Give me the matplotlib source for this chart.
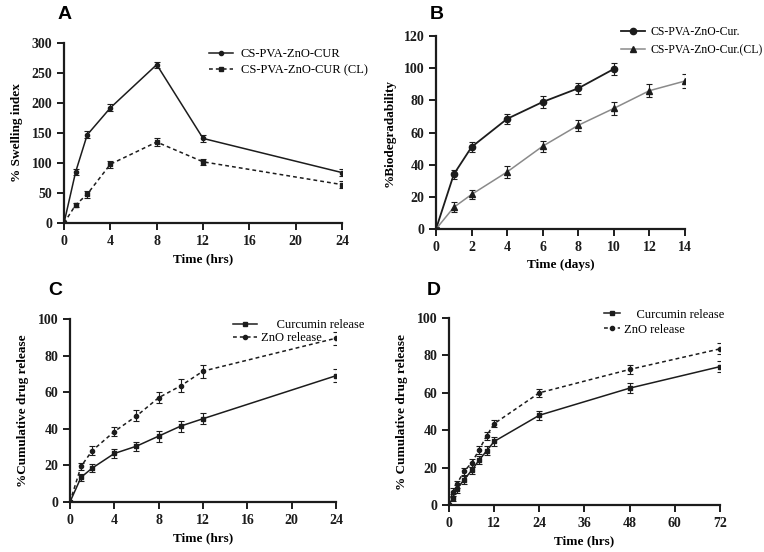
import matplotlib
matplotlib.use("Agg")
import matplotlib.pyplot as plt

# ---------------- data ----------------
# Panel A: swelling index
a_time = [0, 1, 2, 4, 8, 12, 24]
a_cur = [0, 85, 147, 192, 264, 141, 84]
a_cur_err = [0, 5, 6, 6, 5, 6, 6]
a_cl = [0, 30, 48, 98, 135, 102, 64]
a_cl_err = [0, 4, 6, 6, 6, 5, 6]
a_xticks = [0, 4, 8, 12, 16, 20, 24]
a_yticks = [0, 50, 100, 150, 200, 250, 300]

# Panel B: biodegradability
b_time1 = [0, 1, 2, 4, 6, 8, 10]
b_cur = [0, 34, 51, 68.5, 79, 87.5, 99.5]
b_cur_err = [0, 3, 3, 3, 3.5, 3.5, 4]
b_time2 = [0, 1, 2, 4, 6, 8, 10, 12, 14]
b_cl = [0, 13.5, 21.5, 35.5, 51.5, 64.5, 75, 86, 92]
b_cl_err = [0, 3, 3, 3.5, 3.5, 3.5, 4, 4, 4.5]
b_xticks = [0, 2, 4, 6, 8, 10, 12, 14]
b_yticks = [0, 20, 40, 60, 80, 100, 120]

# Panel C: cumulative release (24 h)
c_time = [0, 1, 2, 4, 6, 8, 10, 12, 24]
c_curc = [0, 13.5, 18.5, 26.5, 30.5, 36, 41.5, 45.5, 69]
c_curc_err = [0, 2, 2, 2.5, 2.5, 3, 3, 3, 3.5]
c_zno = [0, 19.5, 28, 38.5, 47, 57, 63.5, 71.5, 89.5]
c_zno_err = [0, 2, 2.5, 2.5, 3, 3, 3.5, 3.5, 3.5]
c_xticks = [0, 4, 8, 12, 16, 20, 24]
c_yticks = [0, 20, 40, 60, 80, 100]

# Panel D: cumulative release (72 h)
d_time = [0, 1, 2, 4, 6, 8, 10, 12, 24, 48, 72]
d_curc = [0, 4, 8.5, 13.5, 18.5, 24, 29, 34, 48, 62.5, 74]
d_curc_err = [0, 2, 2, 2, 2, 2, 2.5, 2.5, 2.5, 2.5, 3]
d_zno = [0, 7, 11, 18, 22.5, 29.5, 37, 43.5, 60, 72.5, 83.5]
d_zno_err = [0, 2, 2, 2, 2, 2, 2, 2, 2, 2.5, 3]
d_xticks = [0, 12, 24, 36, 48, 60, 72]
d_yticks = [0, 20, 40, 60, 80, 100]

# ---------------- style ----------------
plt.rcParams['font.family'] = ['Liberation Serif', 'DejaVu Serif']
DARK = '#1c1c1c'
GRAY = '#8a8a8a'

fig = plt.figure(figsize=(7.64, 5.52), dpi=100)
fig.patch.set_facecolor('white')


def style_axes(ax, xticks, yticks, xlabel, ylabel, xlim, ylim):
    for s in ['top', 'right']:
        ax.spines[s].set_visible(False)
    for s in ['left', 'bottom']:
        ax.spines[s].set_linewidth(1.6)
        ax.spines[s].set_color(DARK)
    ax.set_xticks(xticks)
    ax.set_yticks(yticks)
    ax.set_xlim(*xlim)
    ax.set_ylim(*ylim)
    ax.tick_params(direction='out', length=5, width=1.4, colors=DARK,
                   labelsize=10)
    for lab in ax.get_xticklabels() + ax.get_yticklabels():
        lab.set_fontweight('bold')
    ax.set_xlabel(xlabel, fontsize=9.5, fontweight='bold', labelpad=4)
    ax.set_ylabel(ylabel, fontsize=9.5, fontweight='bold', labelpad=6)
    ax.set_facecolor('white')


def add_legend(ax, containers, labels, anchor, **kw):
    handles = [c[0] for c in containers]
    opts = dict(loc='upper left', bbox_to_anchor=anchor,
                bbox_transform=fig.transFigure, frameon=False, fontsize=9,
                borderaxespad=0, borderpad=0)
    opts.update(kw)
    ax.legend(handles, labels, **opts)


ebkw = dict(capsize=2, elinewidth=0.8, capthick=0.8)

# Panel A
axA = fig.add_axes([0.0838, 0.596, 0.364, 0.326])
ea1 = axA.errorbar(a_time, a_cur, yerr=a_cur_err, color=DARK, lw=1.1,
                   marker='o', ms=3, **ebkw)
ea2 = axA.errorbar(a_time, a_cl, yerr=a_cl_err, color=DARK, lw=1.1,
                   ls=(0, (2.5, 2)), marker='s', ms=3, **ebkw)
style_axes(axA, a_xticks, a_yticks, 'Time (hrs)', '% Swelling index',
           (0, 24), (0, 300))
add_legend(axA, [ea1, ea2], ['CS-PVA-ZnO-CUR', 'CS-PVA-ZnO-CUR (CL)'],
           (0.274, 0.913), handlelength=1.9, handletextpad=0.6,
           labelspacing=0.35)

# Panel B
axB = fig.add_axes([0.5707, 0.5851, 0.3259, 0.3497])
eb1 = axB.errorbar(b_time1, b_cur, yerr=b_cur_err, color=DARK, lw=1.3,
                   marker='o', ms=4.5, **ebkw)
eb2 = axB.errorbar(b_time2, b_cl, yerr=b_cl_err, color=GRAY, ecolor=DARK,
                   lw=1.1, marker='^', ms=4.5, mfc=DARK, mec=DARK, **ebkw)
style_axes(axB, b_xticks, b_yticks, 'Time (days)', '%Biodegradability',
           (0, 14), (0, 120))
add_legend(axB, [eb1, eb2], ['CS-PVA-ZnO-Cur.', 'CS-PVA-ZnO-Cur.(CL)'],
           (0.813, 0.952), fontsize=8.5, handlelength=2.0,
           handletextpad=0.45, labelspacing=0.5)

# Panel C
axC = fig.add_axes([0.0916, 0.0906, 0.3482, 0.3315])
ec1 = axC.errorbar(c_time, c_curc, yerr=c_curc_err, color=DARK, lw=1.1,
                   marker='s', ms=3, **ebkw)
ec2 = axC.errorbar(c_time, c_zno, yerr=c_zno_err, color=DARK, lw=1.1,
                   ls=(0, (2.5, 2)), marker='o', ms=3, **ebkw)
style_axes(axC, c_xticks, c_yticks, 'Time (hrs)', '%Cumulative drug release',
           (0, 24), (0, 100))
add_legend(axC, [ec1, ec2], ['     Curcumin release', 'ZnO release'],
           (0.305, 0.422), handlelength=1.9, handletextpad=0.3,
           labelspacing=0.1)

# Panel D
axD = fig.add_axes([0.5877, 0.0851, 0.3547, 0.3388])
ed1 = axD.errorbar(d_time, d_curc, yerr=d_curc_err, color=DARK, lw=1.1,
                   marker='s', ms=3, **ebkw)
ed2 = axD.errorbar(d_time, d_zno, yerr=d_zno_err, color=DARK, lw=1.1,
                   ls=(0, (2.5, 2)), marker='o', ms=3, **ebkw)
style_axes(axD, d_xticks, d_yticks, 'Time (hrs)', '% Cumulative drug release',
           (0, 72), (0, 100))
add_legend(axD, [ed1, ed2], ['    Curcumin release', 'ZnO release'],
           (0.790, 0.441), handlelength=1.3, handletextpad=0.3,
           labelspacing=0.25)

# Panel letters
for letter, x, y in [('A', 0.085, 0.973), ('B', 0.572, 0.973),
                     ('C', 0.072, 0.473), ('D', 0.568, 0.473)]:
    fig.text(x, y, letter, fontsize=14, fontweight='bold',
             family=['Liberation Sans', 'DejaVu Sans'], ha='center',
             va='center')

fig.savefig('out.png', dpi=100, facecolor='white')
